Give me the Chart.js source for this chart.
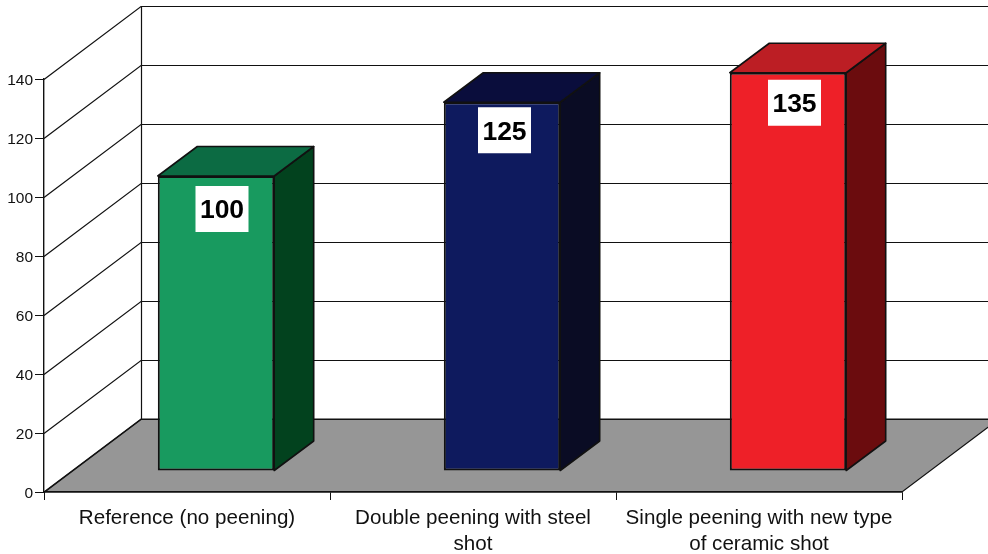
<!DOCTYPE html>
<html>
<head>
<meta charset="utf-8">
<title>Peening comparison</title>
<script src="https://cdn.jsdelivr.net/npm/chart.js@4"></script>
<style>
  html, body { margin: 0; padding: 0; background: #fff; overflow: hidden; }
  canvas { display: block; }
</style>
</head>
<body>
<canvas id="chart" width="988" height="554"></canvas>
<script>
const categories = [
  'Reference (no peening)',
  ['Double peening with steel', 'shot'],
  ['Single peening with new type', 'of ceramic shot']
]
const values = [100, 125, 135]
const yTicks = [0, 20, 40, 60, 80, 100, 120, 140]

const frontColors = ['#189a5f', '#0e1a5e', '#ee2028']
const topColors = ['#0c6b43', '#0a0d3c', '#bc1e24']
const sideColors = ['#02421e', '#0a0c24', '#6b0c0e']

// how far the back wall sits behind the axis plane
const wall = { dx: 97, dy: 73 }
// bars stand part way into the floor
const barShift = { dx: 29, dy: 21 }
const barDepth = { dx: 39.5, dy: 29.5 }
// value boxes were placed by hand, so each one has its own nudge
const boxNudge = [[6, 10], [2.5, 5], [6.5, 7]]

const lineColor = '#111'

const scene = {
  id: 'scene',
  // floor and back wall, behind everything
  beforeDraw(chart) {
    const { ctx, chartArea: area, scales: { y } } = chart
    const base = y.getPixelForValue(0)
    ctx.save()
    ctx.beginPath()
    ctx.moveTo(area.left, base)
    ctx.lineTo(area.left + wall.dx, base - wall.dy)
    ctx.lineTo(area.right + wall.dx, base - wall.dy)
    ctx.lineTo(area.right, base)
    ctx.closePath()
    ctx.fillStyle = '#969696'
    ctx.fill()
    ctx.strokeStyle = lineColor
    ctx.lineWidth = 1.2
    ctx.stroke()

    yTicks.forEach(v => {
      const py = Math.round(y.getPixelForValue(v))
      ctx.beginPath()
      ctx.moveTo(area.left, py + 0.5)
      ctx.lineTo(area.left + wall.dx, py - wall.dy + 0.5)
      ctx.lineTo(chart.width, py - wall.dy + 0.5)
      ctx.stroke()
    })
    const top = y.getPixelForValue(yTicks[yTicks.length - 1])
    ctx.beginPath()
    ctx.moveTo(area.left + wall.dx + 0.5, top - wall.dy)
    ctx.lineTo(area.left + wall.dx + 0.5, base - wall.dy)
    ctx.stroke()
    ctx.restore()
  },
  beforeDatasetsDraw(chart) {
    chart.ctx.save()
    chart.ctx.translate(barShift.dx, -barShift.dy)
  },
  afterDatasetsDraw(chart) {
    const { ctx } = chart
    ctx.lineWidth = 1.6
    ctx.strokeStyle = lineColor
    ctx.lineJoin = 'round'
    chart.getDatasetMeta(0).data.forEach((bar, i) => {
      const right = bar.x + bar.width / 2
      const left = bar.x - bar.width / 2
      // side face
      ctx.beginPath()
      ctx.moveTo(right, bar.y)
      ctx.lineTo(right + barDepth.dx, bar.y - barDepth.dy)
      ctx.lineTo(right + barDepth.dx, bar.base - barDepth.dy)
      ctx.lineTo(right, bar.base)
      ctx.closePath()
      ctx.fillStyle = sideColors[i]
      ctx.fill()
      ctx.stroke()
      // top face
      ctx.beginPath()
      ctx.moveTo(left, bar.y)
      ctx.lineTo(left + barDepth.dx, bar.y - barDepth.dy)
      ctx.lineTo(right + barDepth.dx, bar.y - barDepth.dy)
      ctx.lineTo(right, bar.y)
      ctx.closePath()
      ctx.fillStyle = topColors[i]
      ctx.fill()
      ctx.stroke()
    })
    ctx.restore()
  },
  // white value boxes on the front faces
  afterDraw(chart) {
    const { ctx } = chart
    ctx.save()
    ctx.font = 'bold 26.5px "Liberation Sans", Arial, sans-serif'
    ctx.textAlign = 'center'
    ctx.textBaseline = 'middle'
    chart.getDatasetMeta(0).data.forEach((bar, i) => {
      const cx = bar.x + barShift.dx + boxNudge[i][0]
      const boxTop = bar.y - barShift.dy + boxNudge[i][1]
      ctx.fillStyle = '#fff'
      ctx.fillRect(cx - 26.5, boxTop, 53, 46)
      ctx.fillStyle = '#000'
      ctx.fillText(String(values[i]), cx, boxTop + 25)
    })
    ctx.restore()
  }
}

new Chart(document.getElementById('chart'), {
  type: 'bar',
  data: {
    labels: categories,
    datasets: [{
      data: values,
      backgroundColor: frontColors,
      borderColor: lineColor,
      borderWidth: 2,
      borderSkipped: false,
      categoryPercentage: 1,
      barPercentage: 0.407,
      clip: false
    }]
  },
  options: {
    responsive: false,
    animation: false,
    layout: { padding: { top: 79, right: 86, left: 0, bottom: 0 } },
    plugins: {
      legend: { display: false },
      tooltip: { enabled: false }
    },
    scales: {
      x: {
        afterFit(axis) { axis.height = 62 },
        grid: { drawOnChartArea: false, color: lineColor, tickLength: 8 },
        border: { color: lineColor, width: 1.4 },
        ticks: {
          color: '#111',
          padding: 5,
          autoSkip: false,
          maxRotation: 0,
          minRotation: 0,
          font: { family: '"Liberation Sans", Arial, sans-serif', size: 20.6, lineHeight: 1.27 }
        }
      },
      y: {
        min: 0,
        max: 140,
        afterFit(axis) { axis.width = 44 },
        afterBuildTicks(axis) { axis.ticks = yTicks.map(value => ({ value })) },
        grid: { drawOnChartArea: false, color: lineColor, tickLength: 9 },
        border: { color: lineColor, width: 1.4 },
        ticks: {
          color: '#111',
          padding: 2,
          labelOffset: 1.5,
          font: { family: '"Liberation Sans", Arial, sans-serif', size: 15.5 }
        }
      }
    }
  },
  plugins: [scene]
})
</script>
</body>
</html>
